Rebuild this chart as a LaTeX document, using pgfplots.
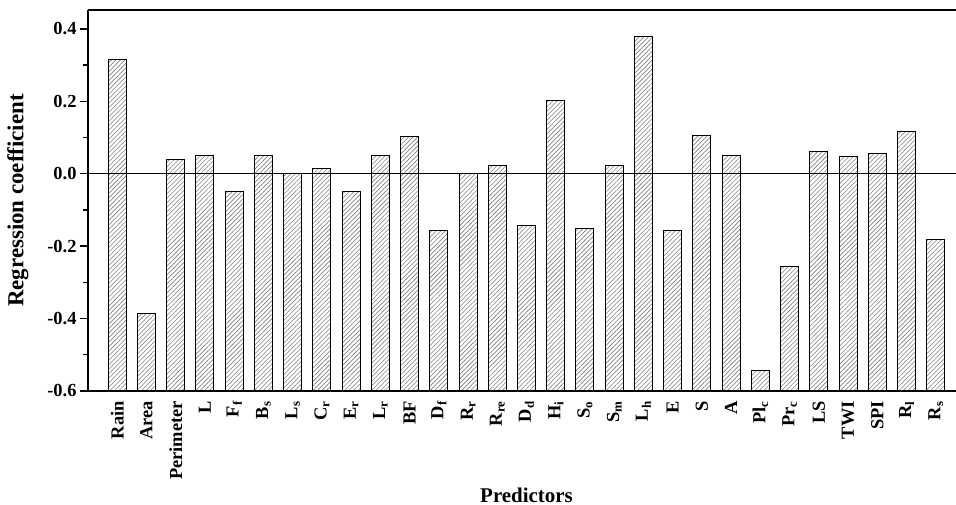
\documentclass[border=0pt]{standalone}
\usepackage{fontspec}
\setmainfont{Liberation Serif}
\usepackage{pgfplots}
\pgfplotsset{compat=1.18}
\usetikzlibrary{patterns.meta}
\begin{document}
\begin{tikzpicture}
\begin{axis}[
  at={(88bp,114bp)}, anchor=south west,
  scale only axis, width=877bp, height=381bp,
  xmin=0, xmax=30, ymin=-0.6, ymax=0.452,
  y coord trafo/.code={\pgfmathparse{#1+0.6}},
  y coord inv trafo/.code={\pgfmathparse{#1-0.6}},
  axis y line*=left,
  axis on top,
  axis line style={line width=1.5pt},
  ybar, bar width=18bp,
  ytick={-0.6,-0.4,-0.2,0,0.2,0.4},
  yticklabels={-0.6,-0.4,-0.2,0.0,0.2,0.4},
  minor ytick={-0.5,-0.3,-0.1,0.1,0.3},
  tick align=outside,
  major tick length=8bp, minor tick length=5bp,
  ytick style={line width=1.4pt, black},
  minor tick style={line width=1.4pt, black},
  major grid style={black, line width=1.5pt},
  extra y ticks={0}, extra y tick labels={},
  extra y tick style={grid=major},
  xtick={1,...,29},
  xticklabels={Rain,Area,Perimeter,L,F\textsubscript{f},B\textsubscript{s},L\textsubscript{s},C\textsubscript{r},E\textsubscript{r},L\textsubscript{r},BF,D\textsubscript{f},R\textsubscript{r},R\textsubscript{re},D\textsubscript{d},H\textsubscript{i},S\textsubscript{o},S\textsubscript{m},L\textsubscript{h},E,S,A,Pl\textsubscript{c},Pr\textsubscript{c},LS,TWI,SPI,R\textsubscript{l},R\textsubscript{s}},
  xtick style={draw=none},
  xticklabel style={rotate=90, anchor=east, font=\fontsize{18.5}{20}\selectfont\bfseries, inner sep=2bp},
  yticklabel style={font=\fontsize{18.5}{20}\selectfont\bfseries},
  ylabel={Regression coefficient},
  xlabel={Predictors},
  ylabel style={at={(axis description cs:-0.08,0.5)}, anchor=center, font=\fontsize{23}{25}\selectfont\bfseries},
  xlabel style={at={(axis description cs:0.5,-0.273)}, anchor=center, font=\fontsize{21}{23}\selectfont\bfseries},
]
\addplot[draw=black, line width=1pt,
  pattern={Lines[angle=45,distance=3.2pt,line width=0.6pt]}, pattern color=gray]
coordinates {
(1,0.315) (2,-0.385) (3,0.038) (4,0.050) (5,-0.050) (6,0.050) (7,0.0) (8,0.013)
(9,-0.050) (10,0.050) (11,0.103) (12,-0.157) (13,0.0) (14,0.024) (15,-0.143)
(16,0.203) (17,-0.151) (18,0.023) (19,0.378) (20,-0.156) (21,0.106) (22,0.049)
(23,-0.543) (24,-0.256) (25,0.060) (26,0.048) (27,0.057) (28,0.116) (29,-0.181)
};
\end{axis}
\pgfresetboundingbox
\path[use as bounding box] (0,0) rectangle (956bp,505bp);
\end{tikzpicture}
\end{document}
